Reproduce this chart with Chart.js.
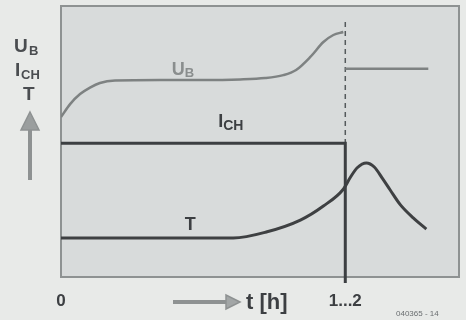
<!DOCTYPE html>
<html>
<head>
<meta charset="utf-8">
<script src="https://cdn.jsdelivr.net/npm/chart.js@4/dist/chart.umd.min.js"></script>
<style>
  html, body { margin: 0; padding: 0; background: #e8eae8; }
  #wrap { width: 466px; height: 320px; }
</style>
</head>
<body>
<div id="wrap"><canvas id="graph" width="466" height="320"></canvas></div>
<script>
// time axis: 0 = start, 1 = end of charge ("1...2" h)
const xTicks = [0, 1];
const xTickLabels = ['0', '1...2'];

// battery voltage U_B (drops back after charge ends)
const ubTime = [0, 0.032, 0.067, 0.102, 0.137, 0.19, 0.349, 0.489, 0.63, 0.718, 0.782, 0.827, 0.877, 0.923, 0.958, 0.993];
const ubValue = [59, 63.8, 67.5, 69.9, 71.6, 72.5, 72.7, 72.7, 72.9, 73.4, 74.5, 76.4, 81.2, 86.7, 89.3, 90.4];
const ubAfterTime = [1.0, 1.292];
const ubAfterValue = [76.8, 76.8];

// charge current I_CH
const ichTime = [0, 1.0, 1.0];
const ichValue = [49.4, 49.4, -2.2];

// temperature T
const tTime = [0, 0.606, 0.722, 0.842, 0.923, 0.993, 1.018, 1.042, 1.074, 1.102, 1.13, 1.158, 1.194, 1.239, 1.285];
const tValue = [14.4, 14.4, 16.6, 21.0, 26.2, 32.4, 36.8, 40.3, 42.1, 40.6, 36.5, 32.1, 26.6, 21.8, 17.7];

// end-of-charge marker
const markTime = [1.0, 1.0];
const markValue = [94.1, 49.4];

function pts(xs, ys) {
  return xs.map((x, i) => ({ x: x, y: ys[i] }));
}

const FONT = '"Liberation Sans", Arial, sans-serif';

// background, plot box and all the free text
const decor = {
  id: 'decor',
  beforeDraw(chart) {
    const c = chart.ctx, a = chart.chartArea;
    c.save();
    c.fillStyle = '#e8eae8';
    c.fillRect(0, 0, chart.width, chart.height);
    c.fillStyle = '#d8dbdb';
    c.fillRect(a.left, a.top, a.right - a.left, a.bottom - a.top);
    c.strokeStyle = '#8e9292';
    c.lineWidth = 2;
    c.strokeRect(a.left, a.top, a.right - a.left, a.bottom - a.top);
    c.restore();
  },
  afterDraw(chart) {
    const c = chart.ctx, xs = chart.scales.x, ys = chart.scales.y;
    c.save();
    c.textBaseline = 'alphabetic';

    // left axis labels
    c.fillStyle = '#4a4d50';
    c.font = 'bold 19px ' + FONT;
    c.fillText('U', 14, 52);
    c.fillText('I', 15, 76);
    c.fillText('T', 23, 100);
    c.font = 'bold 13px ' + FONT;
    c.fillText('B', 29, 55);
    c.fillText('CH', 21, 79);

    // up arrow
    c.strokeStyle = '#8e9292';
    c.fillStyle = '#9a9e9e';
    c.lineWidth = 4;
    c.beginPath(); c.moveTo(30, 128); c.lineTo(30, 180); c.stroke();
    c.lineWidth = 1.5;
    c.beginPath(); c.moveTo(30, 112); c.lineTo(39, 130); c.lineTo(21, 130); c.closePath();
    c.fill(); c.stroke();

    // labels on the curves
    let px = xs.getPixelForValue(0.39), py = ys.getPixelForValue(74.5);
    c.fillStyle = '#8a8e8e';
    c.font = 'bold 18px ' + FONT;
    c.fillText('U', px, py);
    c.font = 'bold 13px ' + FONT;
    c.fillText('B', px + 13, py + 2);

    px = xs.getPixelForValue(0.553); py = ys.getPixelForValue(55.5);
    c.fillStyle = '#3c3f42';
    c.font = 'bold 18px ' + FONT;
    c.fillText('I', px, py);
    c.font = 'bold 14px ' + FONT;
    c.fillText('CH', px + 5, py + 3);

    px = xs.getPixelForValue(0.435); py = ys.getPixelForValue(17.3);
    c.font = 'bold 18px ' + FONT;
    c.fillText('T', px, py);

    // time arrow and unit
    c.strokeStyle = '#8e9292';
    c.fillStyle = '#a2a6a6';
    c.lineWidth = 4;
    c.beginPath(); c.moveTo(173, 302); c.lineTo(228, 302); c.stroke();
    c.lineWidth = 1.5;
    c.beginPath(); c.moveTo(240, 302); c.lineTo(226, 295); c.lineTo(226, 309); c.closePath();
    c.fill(); c.stroke();
    c.fillStyle = '#3c3f42';
    c.font = 'bold 22px ' + FONT;
    c.fillText('t [h]', 246, 309);

    // figure number
    c.fillStyle = '#6a6e70';
    c.font = '8px ' + FONT;
    c.fillText('040365 - 14', 396, 316);
    c.restore();
  }
};

const ctx = document.getElementById('graph').getContext('2d');
const graph = new Chart(ctx, {
  type: 'line',
  data: {
    datasets: [{
      label: 'U_B',
      data: pts(ubTime, ubValue),
      borderColor: '#7e8282',
      borderWidth: 2.5,
      cubicInterpolationMode: 'monotone'
    }, {
      label: 'U_B after',
      data: pts(ubAfterTime, ubAfterValue),
      borderColor: '#7e8282',
      borderWidth: 2.5
    }, {
      label: 'I_CH',
      data: pts(ichTime, ichValue),
      borderColor: '#3c3f42',
      borderWidth: 3,
      clip: false
    }, {
      label: 'T',
      data: pts(tTime, tValue),
      borderColor: '#3e4042',
      borderWidth: 3,
      cubicInterpolationMode: 'monotone'
    }, {
      label: 'end',
      data: pts(markTime, markValue),
      borderColor: '#555a5c',
      borderWidth: 1.5,
      borderDash: [5, 4]
    }]
  },
  options: {
    responsive: false,
    animation: false,
    events: [],
    layout: { padding: { top: 6, right: 7, left: 0, bottom: 0 } },
    elements: { point: { radius: 0 } },
    plugins: { legend: { display: false }, tooltip: { enabled: false } },
    scales: {
      x: {
        type: 'linear',
        min: 0,
        max: 1.4,
        grid: { display: false },
        border: { display: false },
        afterBuildTicks: (s) => { s.ticks = xTicks.map(v => ({ value: v })); },
        afterFit: (s) => { s.height = 43; },
        ticks: {
          padding: 6,
          maxRotation: 0,
          autoSkip: false,
          color: '#3c3f42',
          font: { family: FONT, size: 17, weight: 'bold' },
          callback: (v) => xTickLabels[xTicks.indexOf(v)]
        }
      },
      y: {
        min: 0,
        max: 100,
        grid: { display: false },
        border: { display: false },
        ticks: { display: false },
        afterFit: (s) => { s.width = 61; }
      }
    }
  },
  plugins: [decor]
});
</script>
</body>
</html>
